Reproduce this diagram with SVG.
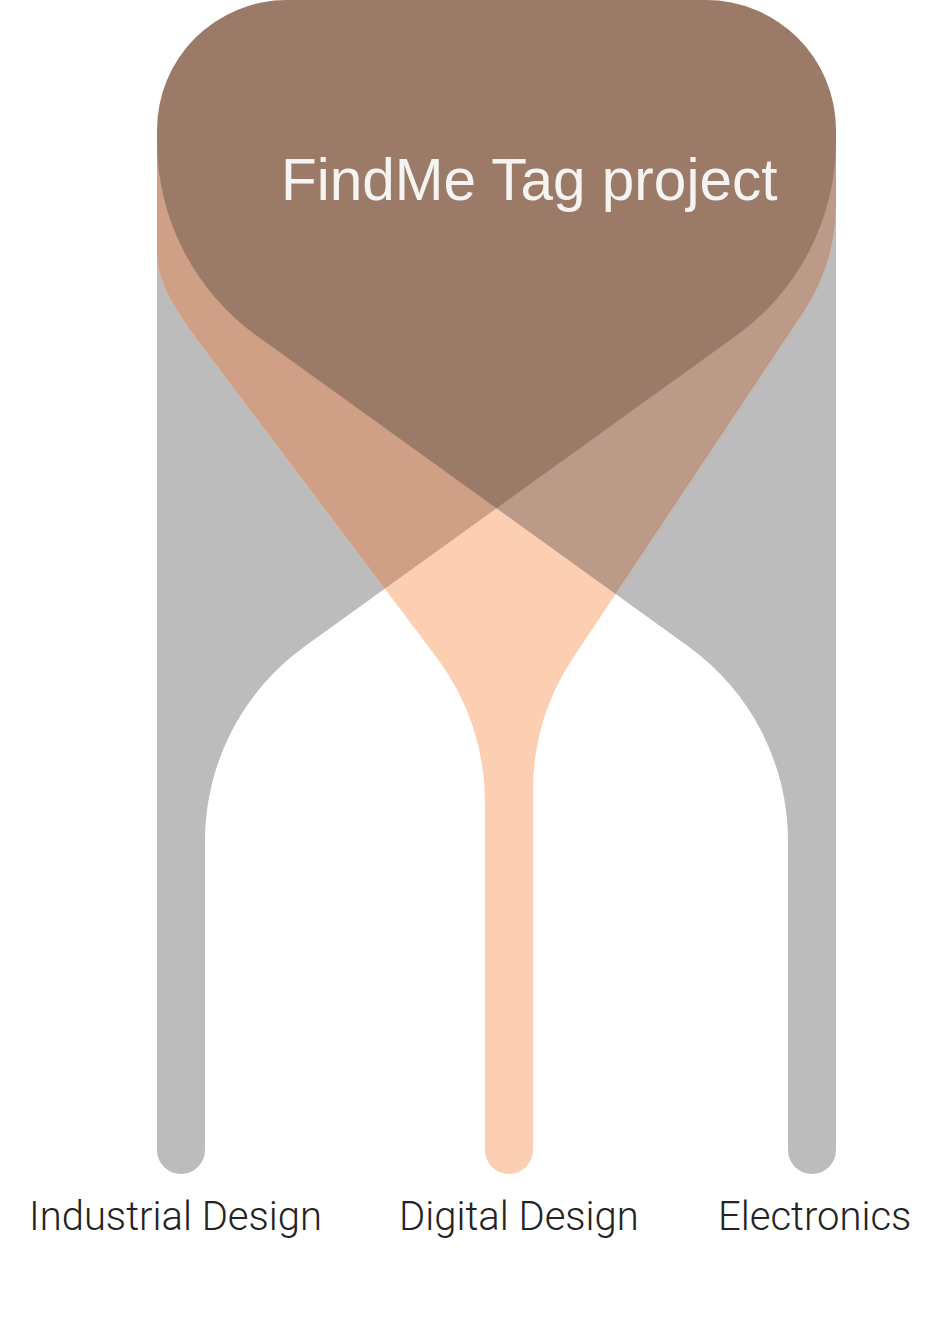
<svg xmlns="http://www.w3.org/2000/svg" width="944" height="1330" viewBox="0 0 944 1330">
  <style>
    .gray { fill: #bcbcbc; }
    .peach { fill: #fccfb3; }
    .tanL { fill: #cfa085; }
    .tanR { fill: #bc9a88; }
    .brown { fill: #9b7a67; }
    .title { font-family: "Liberation Sans", Arial, sans-serif; font-size: 58.5px; fill: #f6f4f3; }
    .label { font-family: Roboto, "Liberation Sans", sans-serif; font-size: 40px; font-weight: 300; fill: #232323; }
  </style>
  <defs>
    <clipPath id="clipLeft">
      <path d="M157,141 V1150 A24,24 0 0 0 205,1150 V841 A240,240 0 0 1 304.9,646.2 L736.1,335.8 A240,240 0 0 0 836,141 Z"/>
    </clipPath>
    <clipPath id="clipRight">
      <path d="M836,141 V1150 A24,24 0 0 1 788,1150 V841 A240,240 0 0 0 688.1,646.2 L256.9,335.8 A240,240 0 0 1 157,141 Z"/>
    </clipPath>
  </defs>
  <rect width="944" height="1330" fill="#ffffff"/>
  <g id="connectors">
    <path id="link-industrial" class="gray" d="M157,141 V1150 A24,24 0 0 0 205,1150 V841 A240,240 0 0 1 304.9,646.2 L736.1,335.8 A240,240 0 0 0 836,141 Z"/>
    <path id="link-electronics" class="gray" d="M836,141 V1150 A24,24 0 0 1 788,1150 V841 A240,240 0 0 0 688.1,646.2 L256.9,335.8 A240,240 0 0 1 157,141 Z"/>
    <path id="link-digital" class="peach" d="M157,141 V256 Q157,286 196,338 L437,658 A240,240 0 0 1 485,802 V1150 A24,24 0 0 0 533,1150 V790 A240,240 0 0 1 573,658 L803,313 A195,195 0 0 0 836,205 V141 Z"/>
    <path class="tanL" clip-path="url(#clipLeft)" d="M157,141 V256 Q157,286 196,338 L437,658 A240,240 0 0 1 485,802 V1150 A24,24 0 0 0 533,1150 V790 A240,240 0 0 1 573,658 L803,313 A195,195 0 0 0 836,205 V141 Z"/>
    <path class="tanR" clip-path="url(#clipRight)" d="M157,141 V256 Q157,286 196,338 L437,658 A240,240 0 0 1 485,802 V1150 A24,24 0 0 0 533,1150 V790 A240,240 0 0 1 573,658 L803,313 A195,195 0 0 0 836,205 V141 Z"/>
  </g>
  <g id="node-findme">
    <path class="brown" d="M157,141 V130 A130,130 0 0 1 287,0 H706 A130,130 0 0 1 836,130 V141 A240,240 0 0 1 736.1,335.8 L496.5,508.3 L256.9,335.8 A240,240 0 0 1 157,141 Z"/>
    <text class="title" x="281" y="199.5">FindMe Tag project</text>
  </g>
  <g id="node-industrial">
    <text class="label" x="29" y="1230">Industrial Design</text>
  </g>
  <g id="node-digital">
    <text class="label" x="399" y="1230">Digital Design</text>
  </g>
  <g id="node-electronics">
    <text class="label" x="718" y="1230">Electronics</text>
  </g>
</svg>
